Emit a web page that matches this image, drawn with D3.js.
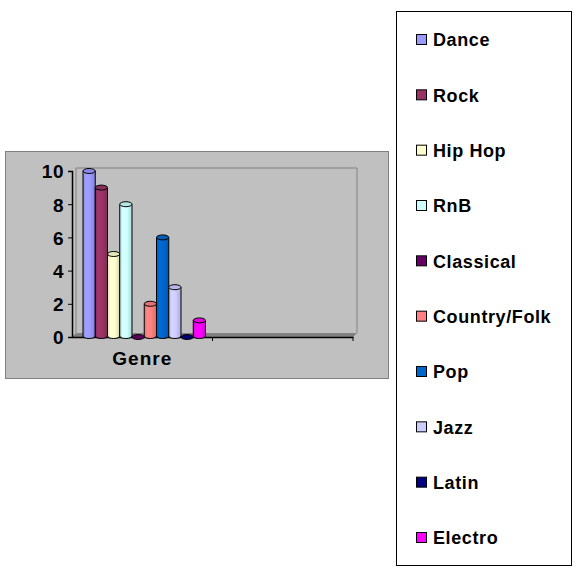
<!DOCTYPE html>
<html>
<head>
<meta charset="utf-8">
<script src="https://cdn.jsdelivr.net/npm/d3@7"></script>
<style>
  body { margin: 0; background: #fff; }
  text { font-family: "Liberation Sans", Arial, sans-serif; font-weight: bold; }
</style>
</head>
<body>
<div id="chart"></div>
<script>
// chart values
const categories = ["Genre", ""];
const series = ["Dance", "Rock", "Hip Hop", "RnB", "Classical", "Country/Folk", "Pop", "Jazz", "Latin", "Electro"];
const values = [10, 9, 5, 8, 0, 2, 6, 3, 0, 1];
const colors = ["#9999ff", "#993366", "#ffffcc", "#ccffff", "#660066", "#ff8080", "#0066cc", "#ccccff", "#000080", "#ff00ff"];
const yTicks = [0, 2, 4, 6, 8, 10];

const svg = d3.select("#chart").append("svg")
  .attr("width", 580).attr("height", 576);

const defs = svg.append("defs");

//chart area
svg.append("rect")
  .attr("x", 5.5).attr("y", 151.5).attr("width", 383).attr("height", 227)
  .attr("fill", "#c0c0c0").attr("stroke", "#808080");

const x = d3.scaleBand().domain(categories).range([72, 353]);
const y = d3.scaleLinear().domain([0, 10]).range([337, 171]);
const inner = d3.scaleBand().domain(series)
  .range([x("Genre") + 11, x("Genre") + x.bandwidth() - 7]);

//back wall + floor
const depth = 4;
svg.append("polyline")
  .attr("points", `${72 + depth},${y(0) - depth} ${72 + depth},${y(10) - 3} ${353 + depth},${y(10) - 3} ${353 + depth},${y(0) - depth}`)
  .attr("fill", "none").attr("stroke", "#808080");
svg.append("polygon")
  .attr("points", `72,${y(0)} ${72 + depth},${y(0) - depth} ${353 + depth},${y(0) - depth} 353,${y(0)}`)
  .attr("fill", "#808080");

//y axis
const yAxis = svg.append("g").attr("transform", "translate(72,0)")
  .call(d3.axisLeft(y).tickValues(yTicks).tickSize(4).tickPadding(4));
yAxis.select(".domain").attr("stroke", "#000").attr("stroke-width", 1.5);
yAxis.selectAll("line").attr("stroke", "#000");
yAxis.selectAll("text").attr("font-size", 19).attr("fill", "#000")
  .style("letter-spacing", "0.5px").attr("dy", "0.36em");

//x axis
const xAxis = svg.append("g").attr("transform", `translate(0,${y(0)})`)
  .call(d3.axisBottom(x).tickSize(0).tickPadding(15));
xAxis.select(".domain").attr("stroke", "#000").attr("stroke-width", 1.5);
xAxis.selectAll("text").attr("font-size", 19).attr("fill", "#000")
  .style("letter-spacing", "1px");
xAxis.selectAll(".bnd").data(x.domain().map(d => x(d) + x.bandwidth()))
  .enter().append("line")
  .attr("x1", d => d).attr("x2", d => d).attr("y1", 0).attr("y2", 4)
  .attr("stroke", "#000");

//gradients for the cylinders
series.forEach((s, i) => {
  const c = d3.color(colors[i]);
  const g = defs.append("linearGradient").attr("id", "g" + i)
    .attr("x1", "0%").attr("x2", "100%");
  g.append("stop").attr("offset", "0%").attr("stop-color", c.darker(0.35));
  g.append("stop").attr("offset", "25%").attr("stop-color", c.brighter(0.15));
  g.append("stop").attr("offset", "60%").attr("stop-color", c);
  g.append("stop").attr("offset", "100%").attr("stop-color", c.darker(0.5));
});

const bars = svg.selectAll(".bar").data(series).enter().append("g").attr("class", "bar");
const ry = 2.5;
bars.append("path")
  .attr("d", (d, i) => {
    const x0 = inner(d), w = inner.bandwidth(), top = y(values[i]), bot = y(0) - 1;
    return `M${x0},${top} L${x0},${bot} A${w / 2},${ry} 0 0 0 ${x0 + w},${bot} L${x0 + w},${top}`;
  })
  .attr("fill", (d, i) => `url(#g${i})`).attr("stroke", "#000").attr("stroke-width", 1);
bars.append("ellipse")
  .attr("cx", d => inner(d) + inner.bandwidth() / 2)
  .attr("cy", (d, i) => y(values[i]))
  .attr("rx", inner.bandwidth() / 2).attr("ry", ry)
  .attr("fill", (d, i) => d3.color(colors[i]).darker(0.3))
  .attr("stroke", "#000").attr("stroke-width", 1);

//legend
svg.append("rect")
  .attr("x", 396.5).attr("y", 11.5).attr("width", 175).attr("height", 554)
  .attr("fill", "#fff").attr("stroke", "#000");
const ly = d3.scalePoint().domain(series).range([40, 538]);
const leg = svg.selectAll(".leg").data(series).enter().append("g")
  .attr("transform", d => `translate(416,${ly(d)})`);
leg.append("rect").attr("x", 0.5).attr("y", -5.5).attr("width", 10).attr("height", 10)
  .attr("fill", (d, i) => colors[i]).attr("stroke", "#000");
leg.append("text").attr("x", 17).attr("dy", "0.36em")
  .attr("font-size", 18).style("letter-spacing", "0.6px").text(d => d);
</script>
</body>
</html>
